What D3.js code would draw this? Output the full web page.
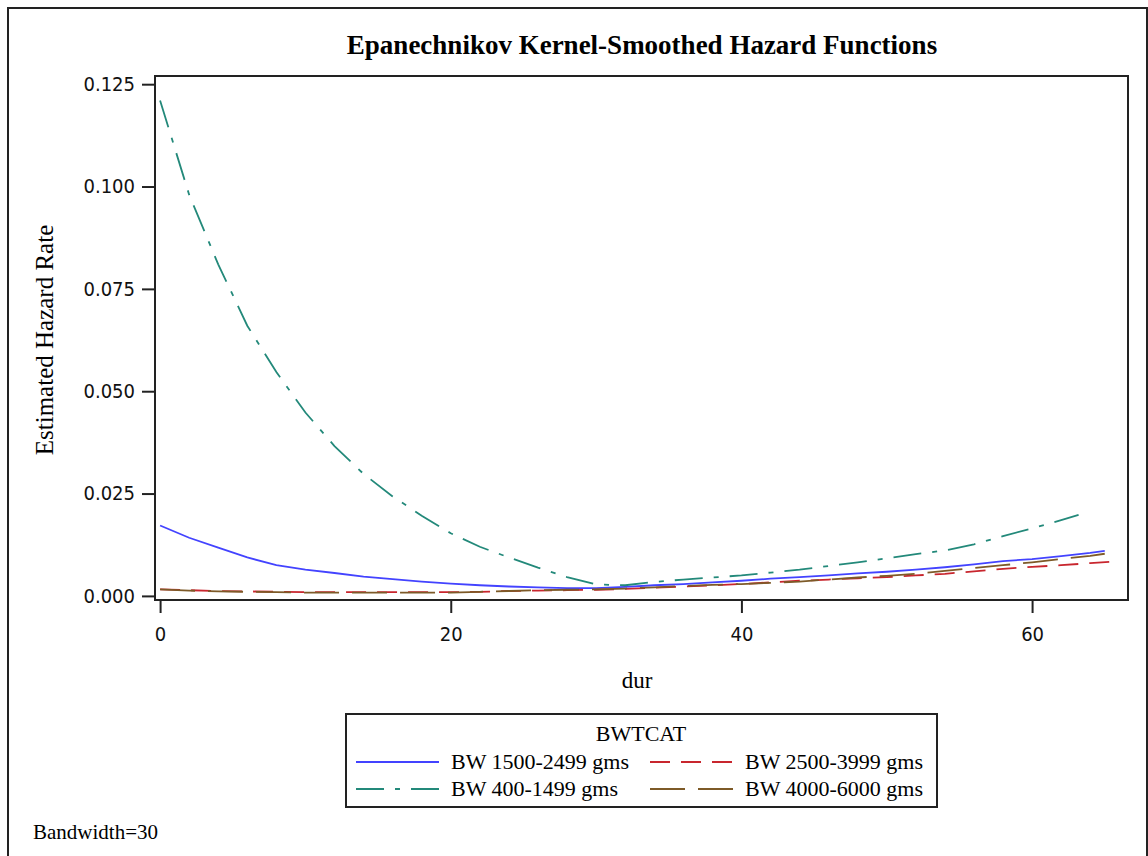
<!DOCTYPE html>
<head>
<meta charset="utf-8">
<style>
body { margin: 0; background: #fff; }
.serif { font-family: "Liberation Serif", "Times New Roman", serif; fill: #000; }
.tick text { font-family: "DejaVu Sans Condensed", "DejaVu Sans", sans-serif; font-stretch: condensed; font-size: 20px; fill: #111; }
.tick line { stroke: #222; stroke-width: 2px; }
.line { fill: none; stroke-width: 1.8px; }
</style>
</head>
<body>
<script src="https://d3js.org/d3.v7.min.js"></script>
<script>

// tick labels
var xTicks = [0, 20, 40, 60];
var yTicks = [0, 0.025, 0.05, 0.075, 0.1, 0.125];

// series names (legend order) and values
var names = ["BW 1500-2499 gms", "BW 2500-3999 gms", "BW 400-1499 gms", "BW 4000-6000 gms"];

var durBlue = [0,2,4,6,8,10,12,14,16,18,20,22,24,26,28,30,32,34,36,38,40,42,44,46,48,50,52,54,56,58,60,62,64,65];
var hazBlue = [0.0172,0.0142,0.0118,0.0094,0.0075,0.0064,0.0056,0.0047,0.0041,0.0035,0.0030,0.0026,0.0023,0.0021,0.0019,0.0019,0.0022,0.0026,0.0029,0.0033,0.0037,0.0042,0.0046,0.0050,0.0055,0.0059,0.0064,0.0070,0.0077,0.0085,0.0090,0.0097,0.0105,0.0110];

var durRed = [0,2,4,6,8,10,12,14,16,18,20,22,24,26,28,30,32,34,36,38,40,42,44,46,48,50,52,54,56,58,60,62,64,66];
var hazRed = [0.0016,0.0014,0.0012,0.0011,0.0010,0.0009,0.0009,0.0009,0.0009,0.0009,0.0009,0.0010,0.0012,0.0013,0.0014,0.0015,0.0017,0.0020,0.0023,0.0026,0.0029,0.0033,0.0037,0.0040,0.0043,0.0046,0.0050,0.0054,0.0060,0.0066,0.0071,0.0075,0.0080,0.0085];

var durGreen = [0,2,4,6,8,10,12,14,16,18,20,22,24,26,28,30,32,34,36,38,40,42,44,46,48,50,52,54,56,58,60,62,63.2];
var hazGreen = [0.121,0.098,0.081,0.066,0.0547,0.0448,0.0366,0.0298,0.0243,0.0196,0.0153,0.0120,0.0094,0.0069,0.0046,0.0028,0.0026,0.0034,0.0040,0.0045,0.0050,0.0057,0.0064,0.0073,0.0082,0.0092,0.0102,0.0111,0.0126,0.0146,0.0165,0.0185,0.0198];

var durBrown = [0,2,4,6,8,10,12,14,16,18,20,22,24,26,28,30,32,34,36,38,40,42,44,46,48,50,52,54,56,58,60,62,64,65];
var hazBrown = [0.0016,0.0013,0.0011,0.0010,0.0009,0.0008,0.0008,0.0008,0.0008,0.0008,0.0008,0.0010,0.0012,0.0014,0.0015,0.0016,0.0018,0.0021,0.0024,0.0027,0.0029,0.0032,0.0035,0.0040,0.0045,0.0049,0.0054,0.0061,0.0068,0.0075,0.0082,0.0090,0.0098,0.0103];

var series = [
  {name: names[0], dur: durBlue,  haz: hazBlue,  color: "#4343ff", dash: null},
  {name: names[1], dur: durRed,   haz: hazRed,   color: "#c8262e", dash: "20,11"},
  {name: names[2], dur: durGreen, haz: hazGreen, color: "#23897a", dash: "28,11,5,11"},
  {name: names[3], dur: durBrown, haz: hazBrown, color: "#7d5a28", dash: "35,13"}
];

// plot frame
var frameL = 155, frameR = 1128, frameT = 76, frameB = 600;

var x = d3.scaleLinear().domain([-0.35, 66.6]).range([frameL, frameR]);
var y = d3.scaleLinear().domain([-0.001, 0.127]).range([frameB, frameT]);

var svg = d3.select("body").append("svg")
    .attr("width", 1148)
    .attr("height", 856);

// outer border
svg.append("rect")
    .attr("x", 8).attr("y", 8)
    .attr("width", 1139).attr("height", 860)
    .attr("fill", "none").attr("stroke", "#222").attr("stroke-width", 2);

// title
svg.append("text").attr("class", "serif")
    .attr("x", 642).attr("y", 54)
    .attr("text-anchor", "middle")
    .style("font-size", "27px").style("font-weight", "bold")
    .text("Epanechnikov Kernel-Smoothed Hazard Functions");

// lines
var line = d3.line()
    .x(function(d) { return x(d[0]); })
    .y(function(d) { return y(d[1]); });

series.forEach(function(s) {
  svg.append("path")
      .datum(s.dur.map(function(d, i) { return [d, s.haz[i]]; }))
      .attr("class", "line")
      .style("stroke", s.color)
      .style("stroke-dasharray", s.dash)
      .attr("d", line);
});

// frame
svg.append("rect")
    .attr("x", frameL).attr("y", frameT)
    .attr("width", frameR - frameL).attr("height", frameB - frameT)
    .attr("fill", "none").attr("stroke", "#222").attr("stroke-width", 2);

// axes
svg.append("g")
    .attr("transform", "translate(" + (frameL - 1) + ",0)")
    .call(d3.axisLeft(y).tickValues(yTicks).tickSize(12).tickPadding(7).tickFormat(d3.format(".3f")))
    .call(function(g) { g.select(".domain").remove(); });

svg.append("g")
    .attr("transform", "translate(0," + (frameB + 1) + ")")
    .call(d3.axisBottom(x).tickValues(xTicks).tickSize(12).tickPadding(14).tickFormat(d3.format("d")))
    .call(function(g) { g.select(".domain").remove(); });

// axis labels
svg.append("text").attr("class", "serif")
    .attr("transform", "translate(53,340) rotate(-90)")
    .attr("text-anchor", "middle")
    .style("font-size", "25px")
    .text("Estimated Hazard Rate");

svg.append("text").attr("class", "serif")
    .attr("x", 637).attr("y", 688)
    .attr("text-anchor", "middle")
    .style("font-size", "23px")
    .text("dur");

// legend
var legend = svg.append("g");
legend.append("rect")
    .attr("x", 346).attr("y", 714)
    .attr("width", 591).attr("height", 93)
    .attr("fill", "none").attr("stroke", "#222").attr("stroke-width", 2);

legend.append("text").attr("class", "serif")
    .attr("x", 641).attr("y", 741)
    .attr("text-anchor", "middle")
    .style("font-size", "22px")
    .text("BWTCAT");

var colX = [356, 650], rowY = [762, 789];
series.forEach(function(s, i) {
  var cx = colX[i % 2], cy = rowY[Math.floor(i / 2)];
  legend.append("line")
      .attr("x1", cx).attr("x2", cx + 83)
      .attr("y1", cy).attr("y2", cy)
      .style("stroke", s.color).style("stroke-width", 1.8)
      .style("stroke-dasharray", s.dash);
  legend.append("text").attr("class", "serif")
      .attr("x", cx + 95).attr("y", cy + 7)
      .style("font-size", "22px")
      .text(s.name);
});

// footnote
svg.append("text").attr("class", "serif")
    .attr("x", 33).attr("y", 839)
    .style("font-size", "21px")
    .text("Bandwidth=30");

</script>
</body>
